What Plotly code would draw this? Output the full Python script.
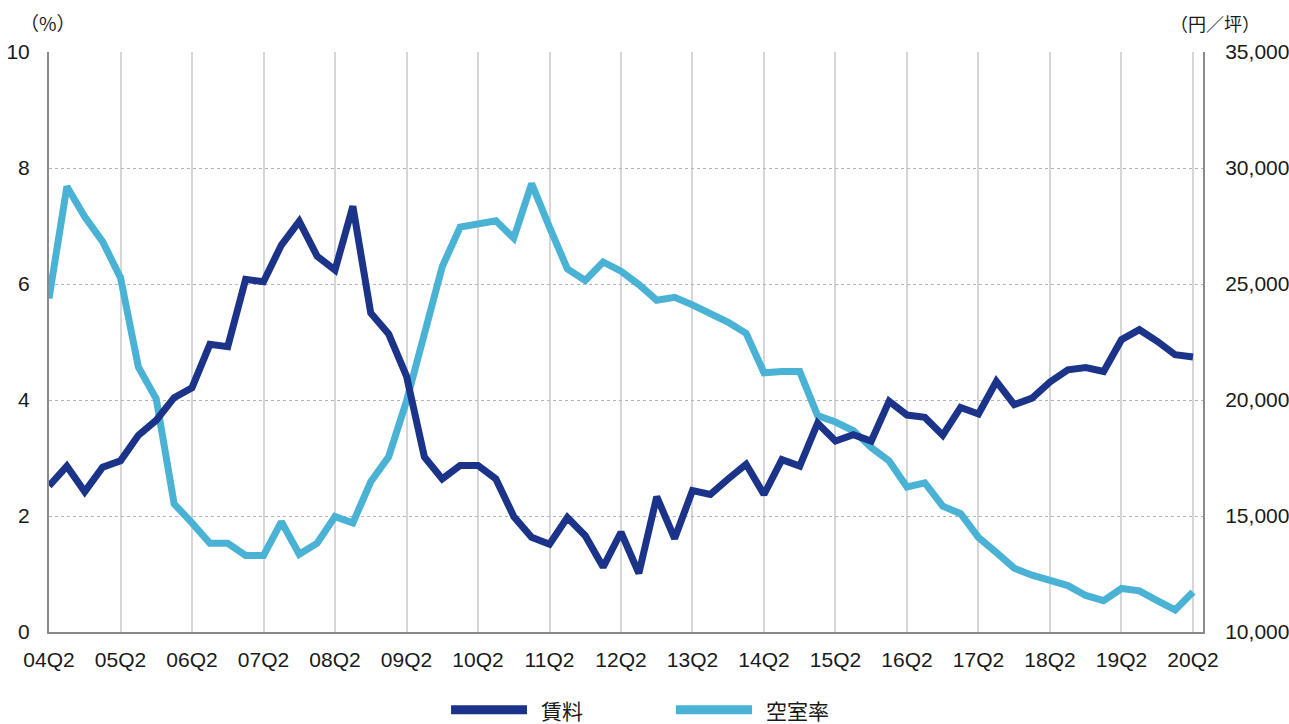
import plotly.graph_objects as go

quarters = [f"{y:02d}Q{q}" for y in range(4, 21) for q in (1, 2, 3, 4)][1:66]  # 04Q2 .. 20Q2
year_ticks = [f"{y:02d}Q2" for y in range(4, 21)]

# Vacancy rate (%) - left axis
vacancy = [5.75, 7.68, 7.16, 6.73, 6.11, 4.57, 4.02, 2.21, 1.88, 1.53,
           1.53, 1.32, 1.32, 1.90, 1.34, 1.53, 1.99, 1.88, 2.59, 3.02,
           3.98, 5.12, 6.30, 6.98, 7.02, 7.09, 6.79, 7.73, 6.98, 6.26,
           6.06, 6.38, 6.22, 5.99, 5.72, 5.77, 5.64, 5.50, 5.34, 5.15,
           4.47, 4.49, 4.49, 3.73, 3.62, 3.47, 3.18, 2.95, 2.50, 2.57,
           2.17, 2.04, 1.63, 1.37, 1.10, 0.98, 0.90, 0.80, 0.63, 0.54,
           0.75, 0.71, 0.54, 0.38, 0.69]

# Rent (yen / tsubo) - right axis
rent = [16300, 17150, 16050, 17100, 17380, 18480, 19130, 20100, 20530, 22400,
        22300, 25200, 25100, 26680, 27700, 26200, 25600, 28350, 23750, 22850,
        21030, 17550, 16600, 17180, 17180, 16600, 14980, 14080, 13780, 14930,
        14150, 12800, 14300, 12530, 15830, 14030, 16100, 15930, 16600, 17230,
        15930, 17430, 17150, 19000, 18230, 18500, 18230, 19950, 19350, 19250,
        18480, 19680, 19400, 20800, 19800, 20080, 20780, 21300, 21400, 21230,
        22600, 23030, 22530, 21950, 21850]

series_names = ["賃料", "空室率"]

DARK = "#1B3389"
LIGHT = "#4AB3D5"
NUM_FONT = "Liberation Sans"
JP_FONT = "Noto Sans CJK JP"

fig = go.Figure()
fig.add_trace(go.Scatter(x=quarters, y=rent, name=series_names[0], yaxis="y2",
                         mode="lines", line=dict(color=DARK, width=7)))
fig.add_trace(go.Scatter(x=quarters, y=vacancy, name=series_names[1], yaxis="y",
                         mode="lines", line=dict(color=LIGHT, width=7)))

# custom legend (long thick swatches) below the plot
shapes = []
annotations = []
legend_items = [(series_names[0], DARK, 0.3484, 0.4142, 0.4246),
                (series_names[1], LIGHT, 0.5433, 0.6092, 0.6196)]
for name, color, x0, x1, xt in legend_items:
    shapes.append(dict(type="line", xref="paper", yref="paper", x0=x0, x1=x1,
                       y0=-0.134, y1=-0.134, line=dict(color=color, width=9)))
    annotations.append(dict(text=name, xref="paper", yref="paper", x=xt, y=-0.134,
                            xanchor="left", yanchor="middle", showarrow=False,
                            font=dict(family=JP_FONT, size=21, color="#1a1a1a")))

annotations += [
    dict(text="（%）", xref="paper", yref="paper", x=-0.001, y=1.05,
         xanchor="center", yanchor="middle", showarrow=False,
         font=dict(family=JP_FONT, size=19, color="#1a1a1a")),
    dict(text="（円／坪）", xref="paper", yref="paper", x=1.0104, y=1.05,
         xanchor="center", yanchor="middle", showarrow=False,
         font=dict(family=JP_FONT, size=18, color="#1a1a1a")),
]

fig.update_layout(
    width=1289, height=724,
    margin=dict(l=49, r=86, t=52, b=92),
    paper_bgcolor="white", plot_bgcolor="white",
    font=dict(family=NUM_FONT, size=21, color="#1a1a1a"),
    showlegend=False,
    xaxis=dict(type="category", categoryorder="array", categoryarray=quarters,
               range=[0, 64.56], tickvals=year_ticks, ticktext=year_ticks,
               showgrid=True, gridcolor="#d6d6d6", gridwidth=1.5,
               showline=True, linecolor="#8a8a8a", linewidth=2,
               ticks="", ticklabelstandoff=8, automargin=False),
    yaxis=dict(range=[0, 10], dtick=2, showgrid=True, gridcolor="#b5b5b5",
               griddash="dot", gridwidth=1.2, zeroline=False,
               showline=True, linecolor="#8a8a8a", linewidth=2,
               ticks="", ticklabelstandoff=13, automargin=False),
    yaxis2=dict(range=[10000, 35000], dtick=5000, overlaying="y", side="right",
                showgrid=False, zeroline=False, tickformat=",",
                showline=True, linecolor="#8a8a8a", linewidth=2,
                ticks="", ticklabelstandoff=16, automargin=False),
    shapes=shapes,
    annotations=annotations,
)

fig.write_html("out.html")
